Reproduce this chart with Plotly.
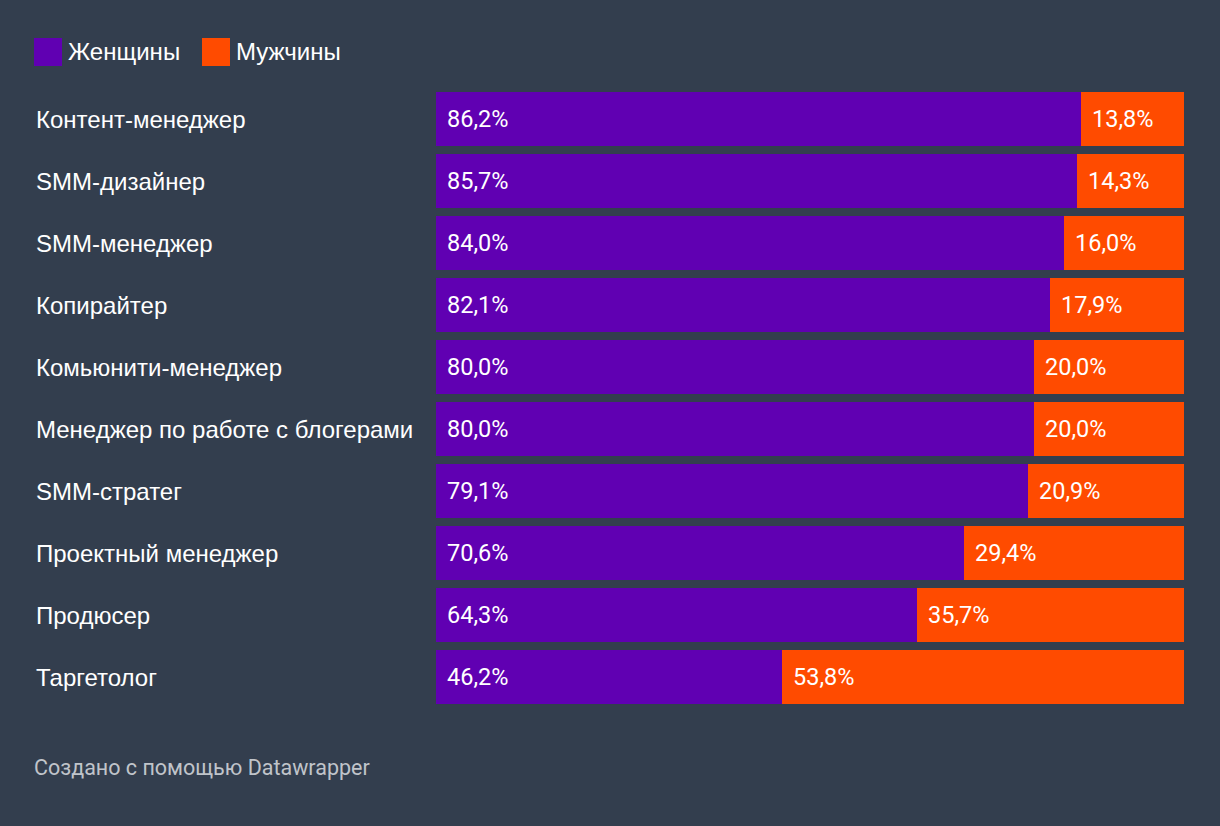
import plotly.graph_objects as go

categories = ["Контент-менеджер", "SMM-дизайнер", "SMM-менеджер", "Копирайтер",
              "Комьюнити-менеджер", "Менеджер по работе с блогерами", "SMM-стратег",
              "Проектный менеджер", "Продюсер", "Таргетолог"]
women = [86.2, 85.7, 84.0, 82.1, 80.0, 80.0, 79.1, 70.6, 64.3, 46.2]
men = [13.8, 14.3, 16.0, 17.9, 20.0, 20.0, 20.9, 29.4, 35.7, 53.8]
series_names = ["Женщины", "Мужчины"]
colors = ["#6000b2", "#ff4b00"]
bg = "#333e4e"

def fmt(v):
    return f"{v:.1f}%".replace(".", ",")

fig = go.Figure()
fig.add_trace(go.Bar(y=categories, x=women, orientation="h", marker=dict(color=colors[0], line=dict(width=0)),
                     name=series_names[0], showlegend=False, hoverinfo="skip"))
fig.add_trace(go.Bar(y=categories, x=men, orientation="h", marker=dict(color=colors[1], line=dict(width=0)),
                     name=series_names[1], showlegend=False, hoverinfo="skip"))

ann = []
W = 748
cat_font = dict(family="Liberation Sans, Arial", size=24, color="#ffffff")
val_font = dict(family="Roboto", size=23.5, color="#ffffff")
for c, w, m in zip(categories, women, men):
    ann.append(dict(x=-402 / W, xref="paper", y=c, yref="y", text=c, showarrow=False,
                    xanchor="left", font=cat_font))
    ann.append(dict(x=0, y=c, xref="x", yref="y", text=fmt(w), showarrow=False, xanchor="left",
                    xshift=9, font=val_font))
    ann.append(dict(x=w, y=c, xref="x", yref="y", text=fmt(m), showarrow=False, xanchor="left",
                    xshift=9, font=val_font))

# legend
shapes = []
leg_x = [34, 202]
for i, (nm, col) in enumerate(zip(series_names, colors)):
    x0 = (leg_x[i] - 436) / W
    x1 = (leg_x[i] + 28 - 436) / W
    shapes.append(dict(type="rect", xref="paper", yref="paper", x0=x0, x1=x1,
                       y0=(708 - 66) / 620, y1=(708 - 38) / 620, fillcolor=col, line=dict(width=0)))
    ann.append(dict(x=(leg_x[i] + 32 - 436) / W, xref="paper", y=(708 - 51) / 620, yref="paper",
                    text=nm, showarrow=False, xanchor="left", yanchor="middle", font=cat_font))

ann.append(dict(x=(32 - 436) / W, xref="paper", y=(708 - 767) / 620, yref="paper",
                text="Создано с помощью Datawrapper", showarrow=False, xanchor="left", yanchor="middle",
                font=dict(family="Roboto", size=21.5, color="#c0c4ca")))

fig.update_layout(
    barmode="stack", bargap=8 / 62,
    width=1220, height=826,
    margin=dict(l=436, r=36, t=88, b=118, pad=0),
    paper_bgcolor=bg, plot_bgcolor=bg,
    xaxis=dict(range=[0, 100], visible=False, fixedrange=True),
    yaxis=dict(categoryorder="array", categoryarray=categories, autorange="reversed",
               showticklabels=False, showgrid=False, zeroline=False, fixedrange=True),
    annotations=ann, shapes=shapes,
)

fig.write_html("out.html", config={"displayModeBar": False},
               post_script="document.body.style.margin='0';document.body.style.background='%s';" % bg)
